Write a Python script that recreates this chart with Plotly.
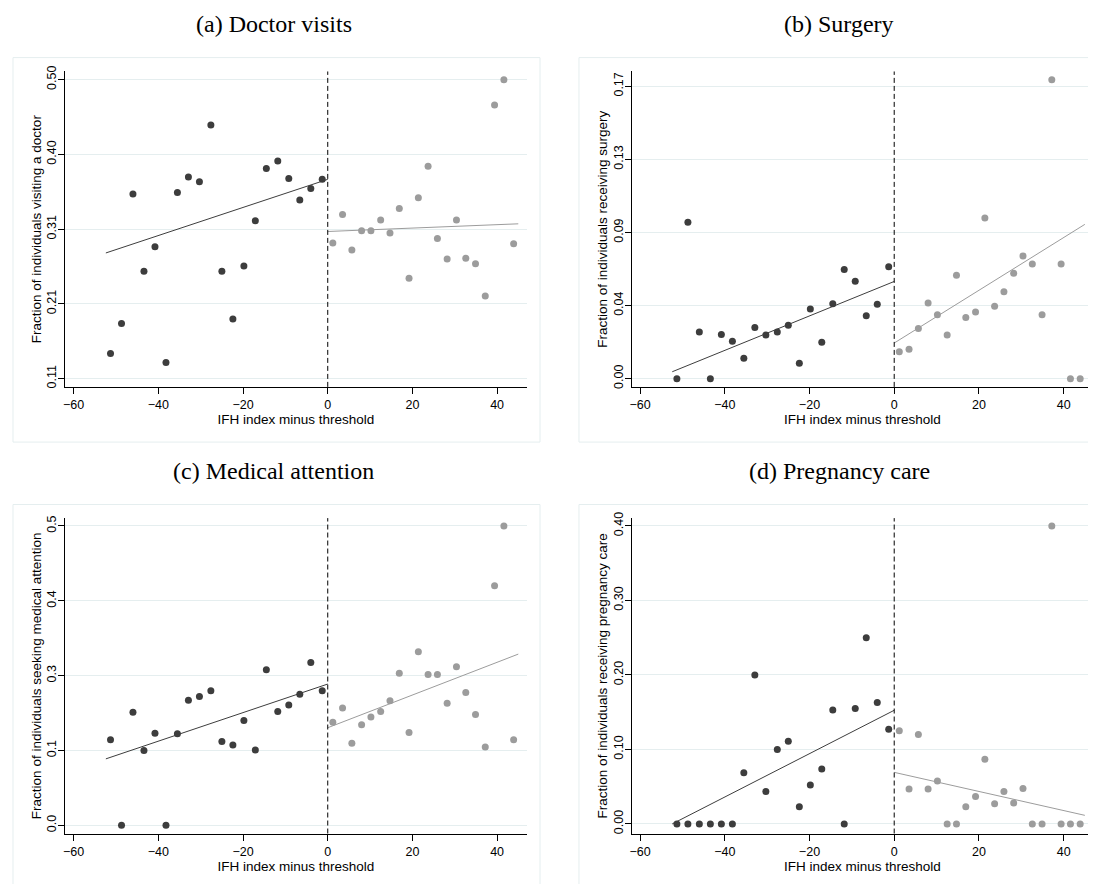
import plotly.graph_objects as go

# ---------------- data ----------------
x_left = [-51.3, -48.7, -46.0, -43.4, -40.8, -38.2, -35.5, -32.9, -30.3, -27.6,
          -25.0, -22.4, -19.8, -17.1, -14.5, -11.8, -9.2, -6.6, -4.0, -1.3]
x_right = [1.2, 3.5, 5.7, 8.0, 10.2, 12.5, 14.7, 16.9, 19.2, 21.4,
           23.7, 25.9, 28.2, 30.4, 32.6, 34.9, 37.2, 39.4, 41.6, 43.9]

doctor_left = [0.143, 0.182, 0.351, 0.250, 0.282, 0.131, 0.353, 0.373, 0.367, 0.441,
               0.250, 0.188, 0.257, 0.316, 0.384, 0.394, 0.371, 0.343, 0.358, 0.370]
doctor_right = [0.287, 0.324, 0.278, 0.303, 0.303, 0.317, 0.300, 0.332, 0.241, 0.346,
                0.387, 0.293, 0.266, 0.317, 0.267, 0.260, 0.218, 0.467, 0.500, 0.286]

surgery_left = [0.000, 0.0909, 0.0271, 0.000, 0.0257, 0.0217, 0.0119, 0.0298, 0.0254, 0.0271,
                0.0311, 0.0090, 0.0405, 0.0211, 0.0436, 0.0634, 0.0567, 0.0365, 0.0432, 0.0651]
surgery_right = [0.0156, 0.0171, 0.0292, 0.0440, 0.0371, 0.0254, 0.0601, 0.0355, 0.0388, 0.0934,
                 0.0421, 0.0505, 0.0613, 0.0713, 0.0667, 0.0371, 0.1738, 0.0667, 0.000, 0.000]

attention_left = [0.143, 0.000, 0.189, 0.125, 0.154, 0.000, 0.153, 0.209, 0.215, 0.225,
                  0.140, 0.134, 0.175, 0.126, 0.260, 0.190, 0.201, 0.219, 0.272, 0.225]
attention_right = [0.172, 0.196, 0.137, 0.168, 0.181, 0.190, 0.208, 0.254, 0.155, 0.290,
                   0.252, 0.252, 0.204, 0.265, 0.222, 0.185, 0.131, 0.400, 0.500, 0.143]

pregnancy_left = [0.000, 0.000, 0.000, 0.000, 0.000, 0.000, 0.0687, 0.200, 0.0435, 0.0998,
                  0.111, 0.0231, 0.0523, 0.0736, 0.153, 0.000, 0.155, 0.250, 0.163, 0.127]
pregnancy_right = [0.125, 0.047, 0.120, 0.047, 0.0576, 0.000, 0.000, 0.0231, 0.0368, 0.0869,
                   0.0271, 0.0435, 0.0279, 0.0474, 0.000, 0.000, 0.400, 0.000, 0.000, 0.000]

# fitted-line end points (x, y)
fit_x_left = [-52.4, 0.0]
fit_x_right = [0.0, 45.0]
doctor_fit_left = [0.274, 0.370]
doctor_fit_right = [0.302, 0.312]
surgery_fit_left = [0.0040, 0.0565]
surgery_fit_right = [0.0207, 0.0897]
attention_fit_left = [0.111, 0.236]
attention_fit_right = [0.163, 0.286]
pregnancy_fit_left = [0.000, 0.1525]
pregnancy_fit_right = [0.0692, 0.0115]

titles = ["(a) Doctor visits", "(b) Surgery", "(c) Medical attention", "(d) Pregnancy care"]
y_titles = ["Fraction of individuals visiting a doctor",
            "Fraction of individuals receiving surgery",
            "Fraction of individuals seeking medical attention",
            "Fraction of individuals receiving pregnancy care"]
x_title = "IFH index minus threshold"

x_ticks = [-60, -40, -20, 0, 20, 40]
y_tickvals = [[0.11, 0.2075, 0.305, 0.4025, 0.50],
              [0.0, 0.0425, 0.085, 0.1275, 0.17],
              [0.0, 0.125, 0.25, 0.375, 0.5],
              [0.0, 0.10, 0.20, 0.30, 0.40]]
y_ticktext = [["0.11", "0.21", "0.31", "0.40", "0.50"],
              ["0.00", "0.04", "0.09", "0.13", "0.17"],
              ["0.0", "0.1", "0.3", "0.4", "0.5"],
              ["0.00", "0.10", "0.20", "0.30", "0.40"]]

# ---------------- layout geometry (screen pixels; page body adds 8px) ----------------
W, H = 1096, 884
OFF = 8
y_ranges = [[0.0993, 0.5107], [-0.0048, 0.1786], [-0.0137, 0.5132], [-0.0129, 0.4105]]
x_range = [-62, 47]
col_px = [(63.3, 525.7), (630.7, 1093.3)]
row_px = [(66.0, 384.3), (516.7, 835.0)]
box_px = [(11, 539), (578, 1106)]
box_row_px = [(52, 440), (503, 891)]


def px_x(p):
    return (p - OFF) / W


def px_y(p):
    return 1 - (p - OFF) / H


DARK = "#3d3d3d"
LIGHT = "#9c9c9c"
GRID = "#e5eeef"
SANS = "Liberation Sans, Arial, Helvetica, sans-serif"
SERIF = "Liberation Serif, Times New Roman, serif"

series = [
    (doctor_left, doctor_right, doctor_fit_left, doctor_fit_right),
    (surgery_left, surgery_right, surgery_fit_left, surgery_fit_right),
    (attention_left, attention_right, attention_fit_left, attention_fit_right),
    (pregnancy_left, pregnancy_right, pregnancy_fit_left, pregnancy_fit_right),
]

fig = go.Figure()
shapes = []
annotations = []
layout_axes = {}

for i, (yl, yr, fl, fr) in enumerate(series):
    r, c = divmod(i, 2)
    sfx = "" if i == 0 else str(i + 1)
    xa, ya = "x" + sfx, "y" + sfx
    fig.add_trace(go.Scatter(x=fit_x_left, y=fl, mode="lines", xaxis=xa, yaxis=ya,
                             line=dict(color=DARK, width=1), showlegend=False, hoverinfo="skip"))
    fig.add_trace(go.Scatter(x=fit_x_right, y=fr, mode="lines", xaxis=xa, yaxis=ya,
                             line=dict(color=LIGHT, width=1), showlegend=False, hoverinfo="skip"))
    fig.add_trace(go.Scatter(x=x_left, y=yl, mode="markers", xaxis=xa, yaxis=ya,
                             marker=dict(color=DARK, size=7), showlegend=False))
    fig.add_trace(go.Scatter(x=x_right, y=yr, mode="markers", xaxis=xa, yaxis=ya,
                             marker=dict(color=LIGHT, size=7), showlegend=False))

    x0p, x1p = col_px[c]
    t_px, b_px = row_px[r]
    layout_axes["xaxis" + sfx] = dict(
        domain=[px_x(x0p), px_x(x1p)], anchor=ya, range=x_range,
        tickvals=x_ticks, ticks="outside", ticklen=6, tickcolor="black",
        showline=True, linecolor="black", linewidth=1, showgrid=False, zeroline=False,
        tickfont=dict(family=SANS, size=12.5, color="black"),
        title=dict(text=x_title, font=dict(family=SANS, size=13.5, color="black"), standoff=1),
    )
    layout_axes["yaxis" + sfx] = dict(
        domain=[px_y(b_px), px_y(t_px)], anchor=xa, range=y_ranges[i],
        tickvals=y_tickvals[i], ticktext=y_ticktext[i], tickangle=-90,
        ticks="outside", ticklen=6, tickcolor="black", ticklabelstandoff=-3,
        showline=True, linecolor="black", linewidth=1,
        showgrid=True, gridcolor=GRID, gridwidth=1, zeroline=False,
        tickfont=dict(family=SANS, size=12.5, color="black"),
        title=dict(text=y_titles[i], font=dict(family=SANS, size=13.5, color="black"), standoff=0),
    )
    shapes.append(dict(type="line", xref=xa, yref=ya + " domain", x0=0, x1=0, y0=0, y1=1,
                       line=dict(color="black", width=1, dash="5px,3px")))
    bx0, bx1 = box_px[c]
    by0, by1 = box_row_px[r]
    shapes.append(dict(type="rect", xref="paper", yref="paper", layer="below",
                       x0=px_x(bx0), x1=px_x(bx1), y0=px_y(by1), y1=px_y(by0),
                       line=dict(color=GRID, width=1), fillcolor="rgba(0,0,0,0)"))
    title_cx = 272 + c * 567
    title_cy = 18 + r * 451
    annotations.append(dict(text=titles[i], xref="paper", yref="paper",
                            x=px_x(title_cx), y=px_y(title_cy), xanchor="center", yanchor="middle",
                            showarrow=False, font=dict(family=SERIF, size=24, color="black")))

fig.update_layout(
    width=W, height=H, margin=dict(l=0, r=0, t=0, b=0),
    paper_bgcolor="white", plot_bgcolor="white",
    shapes=shapes, annotations=annotations, showlegend=False,
    **layout_axes,
)

fig.write_html("out.html")
